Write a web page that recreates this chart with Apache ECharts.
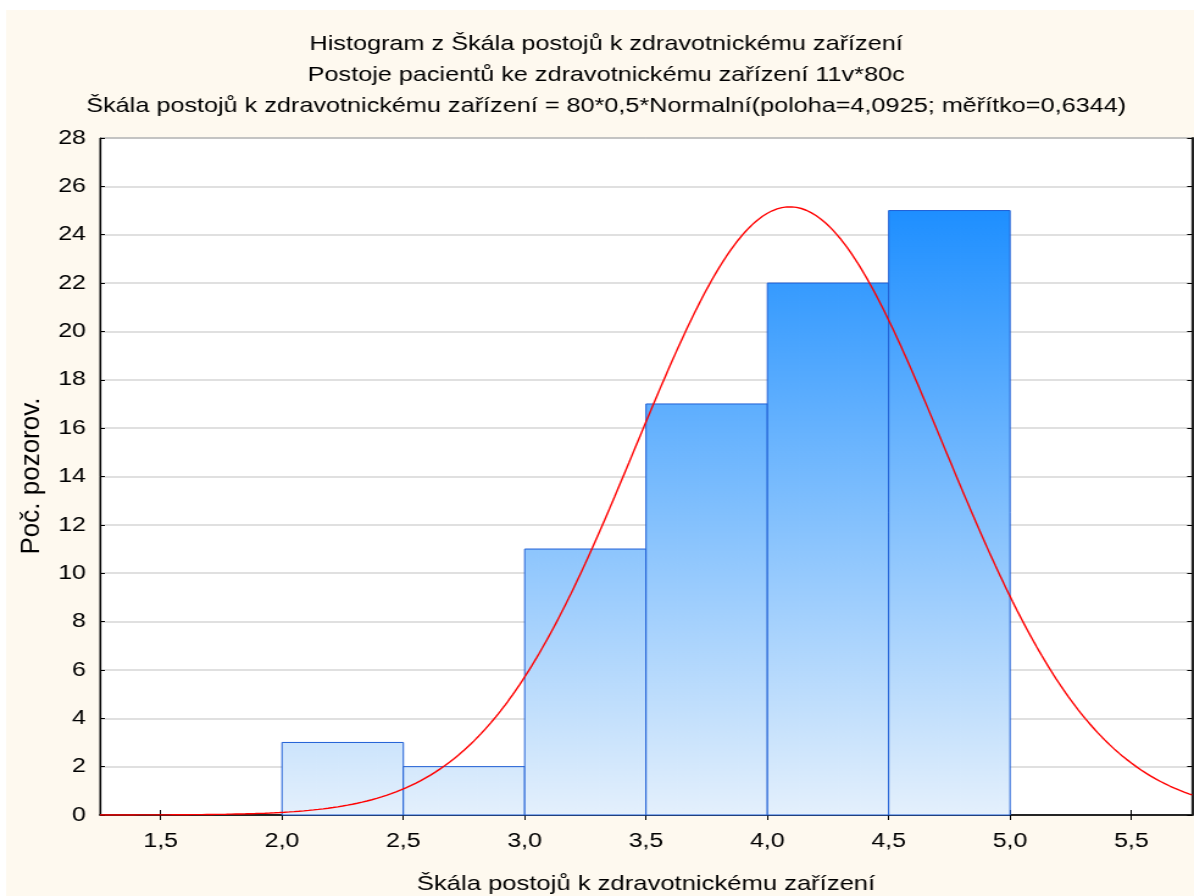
<!DOCTYPE html>
<html>
<head>
<meta charset="utf-8">
<script src="https://cdn.jsdelivr.net/npm/echarts@6/dist/echarts.min.js"></script>
<style>
  html, body { margin: 0; padding: 0; background: #fff; overflow: hidden; }
  /* the original picture is stretched sideways, so draw narrower and widen */
  #chart { width: 979px; height: 896px; transform: scaleX(1.2196); transform-origin: 0 0; }
</style>
</head>
<body>
<div id="chart"></div>
<script>
// bins of the histogram (start, end) and counts
const binStarts = [2.0, 2.5, 3.0, 3.5, 4.0, 4.5];
const binEnds = [2.5, 3.0, 3.5, 4.0, 4.5, 5.0];
const counts = [3, 2, 11, 17, 22, 25];

// tick labels on the x axis
const xTicks = [1.5, 2.0, 2.5, 3.0, 3.5, 4.0, 4.5, 5.0, 5.5];

// fitted normal curve, parameters from the title: 80*0.5*Normal(4.0925; 0.6344)
const nObs = 80;
const binWidth = 0.5;
const fitLocation = 4.0925;
const fitScale = 0.6344;

const titles = [
  'Histogram z Škála postojů k zdravotnickému zařízení',
  'Postoje pacientů ke zdravotnickému zařízení 11v*80c',
  'Škála postojů k zdravotnickému zařízení = 80*0,5*Normalní(poloha=4,0925; měřítko=0,6344)'
];
const yName = 'Poč. pozorov.';

const font = '"Liberation Sans", Arial, sans-serif';
const fmt = v => v.toFixed(1).replace('.', ',');

// curve points
const curve = [];
for (let x = 1.25; x <= 5.751; x += 0.01) {
  const z = (x - fitLocation) / fitScale;
  const y = nObs * binWidth * Math.exp(-0.5 * z * z) / (fitScale * Math.sqrt(2 * Math.PI));
  curve.push([x, y]);
}

const barData = binStarts.map((s, i) => [s, binEnds[i], counts[i]]);
const maxCount = Math.max(...counts);

const chart = echarts.init(document.getElementById('chart'));

chart.setOption({
  backgroundColor: '#fff',
  animation: false,
  graphic: [
    { type: 'rect', z: -10, shape: { x: 5, y: 10, width: 980, height: 886 }, style: { fill: '#FEF9EF' } },
    ...titles.map((t, i) => ({
      type: 'text', x: 497, y: 44 + i * 31, z: 10,
      style: { text: t, font: '20.7px ' + font, fill: '#000', textAlign: 'center', textVerticalAlign: 'middle' }
    })),
    // rotated y axis name, kept unstretched like in the original
    {
      type: 'text', x: 26, y: 476, rotation: Math.PI / 2, scaleY: 0.82, z: 10,
      style: { text: yName, font: '26px ' + font, fill: '#000', textAlign: 'center', textVerticalAlign: 'middle' }
    }
  ],
  grid: {
    left: 82, top: 138, right: 1.6, bottom: 81,
    outerBoundsMode: 'none',
    show: true, backgroundColor: '#fff', borderColor: '#222', borderWidth: 1
  },
  xAxis: [
    {
      type: 'value', min: 1.25, max: 5.75,
      name: 'Škála postojů k zdravotnickému zařízení',
      nameLocation: 'middle', nameGap: 59,
      nameTextStyle: { fontSize: 21, fontFamily: font, color: '#000' },
      axisLine: { lineStyle: { color: '#000', width: 1.5 } },
      axisTick: { inside: true, length: 5, customValues: xTicks, lineStyle: { color: '#000' } },
      axisLabel: { customValues: xTicks, formatter: fmt, fontSize: 20.5, fontFamily: font, color: '#000', margin: 16 },
      splitLine: { show: false }
    },
    {
      type: 'value', min: 1.25, max: 5.75, position: 'top',
      axisLine: { lineStyle: { color: '#222', width: 1.5 } },
      axisTick: { inside: true, length: 5, customValues: xTicks, lineStyle: { color: '#000' } },
      axisLabel: { show: false },
      splitLine: { show: false }
    }
  ],
  yAxis: [
    {
      type: 'value', min: 0, max: 28, interval: 2,
      axisLine: { show: true, lineStyle: { color: '#000', width: 1.2 } },
      axisTick: { show: true, inside: true, length: 4, lineStyle: { color: '#000' } },
      axisLabel: { fontSize: 20.5, fontFamily: font, color: '#000', margin: 11.5 },
      splitLine: { show: true, lineStyle: { color: '#D6D6D6', width: 1.5 } }
    },
    {
      type: 'value', min: 0, max: 28, interval: 2, position: 'right',
      axisLine: { show: true, lineStyle: { color: '#222', width: 2 } },
      axisTick: { show: true, inside: true, length: 4, lineStyle: { color: '#000' } },
      axisLabel: { show: false },
      splitLine: { show: false }
    }
  ],
  series: [
    {
      type: 'custom',
      xAxisIndex: 0, yAxisIndex: 0,
      data: barData,
      encode: { x: [0, 1], y: 2 },
      renderItem: (params, api) => {
        const p0 = api.coord([api.value(0), api.value(2)]);
        const p1 = api.coord([api.value(1), 0]);
        const yTop = api.coord([0, maxCount])[1];
        const yBot = api.coord([0, 0])[1];
        return {
          type: 'rect',
          shape: { x: p0[0], y: p0[1], width: p1[0] - p0[0], height: p1[1] - p0[1] },
          style: {
            fill: new echarts.graphic.LinearGradient(0, yTop, 0, yBot, [
              { offset: 0, color: '#1E8FFF' },
              { offset: 1, color: '#E4F0FC' }
            ], true),
            stroke: '#1F5FD6',
            lineWidth: 1
          }
        };
      },
      z: 2
    },
    {
      type: 'line',
      data: curve,
      showSymbol: false,
      smooth: false,
      clip: true,
      lineStyle: { color: '#FF0000', width: 1.4 },
      z: 3
    }
  ]
});
</script>
</body>
</html>
